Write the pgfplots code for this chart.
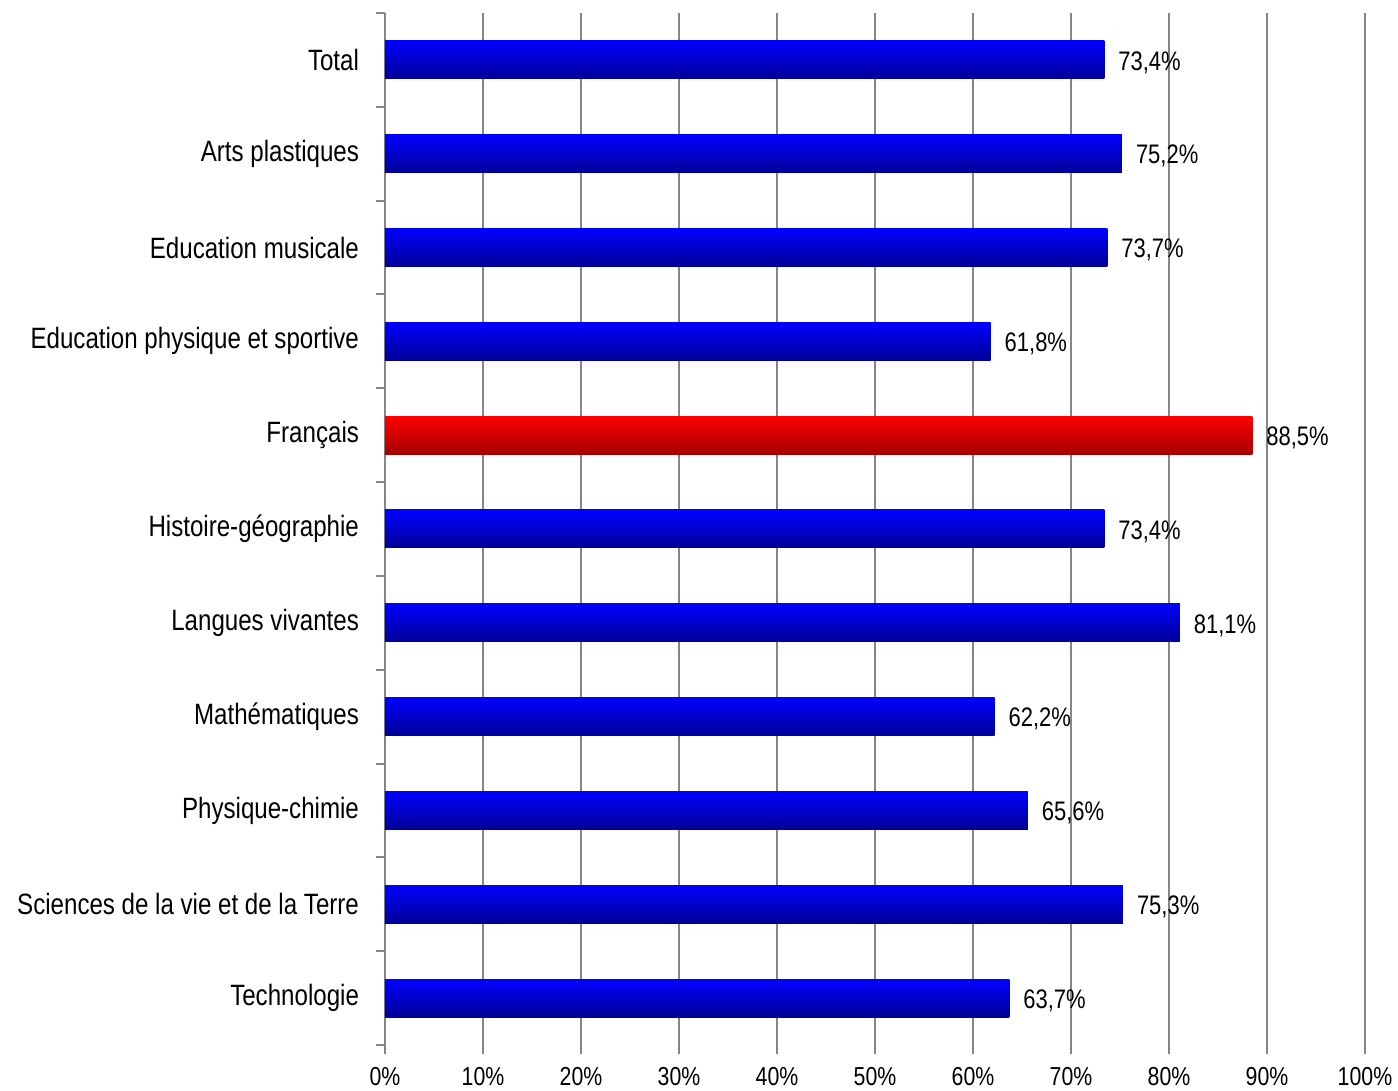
\documentclass[border=0pt]{standalone}
\usepackage{fontspec}
\setmainfont[FakeStretch=0.82]{Liberation Sans}
\usepackage{pgfplots}
\pgfplotsset{compat=1.18}
\definecolor{gridgray}{RGB}{134,134,134}
\definecolor{btop}{RGB}{0,0,255}
\definecolor{bmid}{RGB}{0,0,236}
\definecolor{bbot}{RGB}{0,0,150}
\definecolor{rtop}{RGB}{255,0,0}
\definecolor{rmid}{RGB}{238,0,0}
\definecolor{rbot}{RGB}{165,0,0}
\pgfplotsset{
  barbase/.style={xbar, bar width=19pt, bar shift=0pt, draw=none,
    point meta=x,
    nodes near coords={\pgfmathprintnumber[fixed,fixed zerofill,precision=1,use comma]{\pgfplotspointmeta}\%},
    every node near coord/.append style={font=\fontsize{13.4}{15}\selectfont, black, xshift=3.5pt, yshift=-1.3pt}},
  bluebar/.style={barbase, top color=btop, middle color=bmid, bottom color=bbot},
  redbar/.style={barbase, top color=rtop, middle color=rmid, bottom color=rbot},
}
\begin{document}
\begin{tikzpicture}
\begin{axis}[
  scale only axis, width=490pt, height=516pt,
  xmin=0, xmax=100, ymin=-0.5, ymax=10.5,
  axis lines=left,
  axis line style={-, draw=gridgray, line width=1pt},
  x axis line style={draw=none},
  xtick={0,10,...,100},
  xticklabels={0\%,10\%,20\%,30\%,40\%,50\%,60\%,70\%,80\%,90\%,100\%},
  ytick={0,...,10},
  yticklabels={Technologie,Sciences de la vie et de la Terre,Physique-chimie,Math\'ematiques,Langues vivantes,Histoire-g\'eographie,Fran\c{c}ais,Education physique et sportive,Education musicale,Arts plastiques,Total},
  tick align=outside,
  major tick length=4.5pt,
  xtick style={draw=gridgray, line width=1pt},
  ytick style={draw=none},
  extra y ticks={-0.5,0.5,...,10.5},
  extra y tick labels={},
  extra y tick style={ytick style={draw=gridgray, line width=1pt}},
  xmajorgrids,
  major grid style={draw=gridgray, line width=1pt},
  xticklabel style={font=\fontsize{13}{15}\selectfont, yshift=-3pt},
  yticklabel style={font=\fontsize{14.7}{17}\selectfont, xshift=-5pt},
  /pgf/number format/assume math mode=true,
  clip=false,
]
\addplot[bluebar] coordinates {(73.4,10)};
\addplot[bluebar] coordinates {(75.2,9)};
\addplot[bluebar] coordinates {(73.7,8)};
\addplot[bluebar] coordinates {(61.8,7)};
\addplot[redbar]  coordinates {(88.5,6)};
\addplot[bluebar] coordinates {(73.4,5)};
\addplot[bluebar] coordinates {(81.1,4)};
\addplot[bluebar] coordinates {(62.2,3)};
\addplot[bluebar] coordinates {(65.6,2)};
\addplot[bluebar] coordinates {(75.3,1)};
\addplot[bluebar] coordinates {(63.7,0)};
\coordinate (sw) at (rel axis cs:0,0);
\end{axis}
\pgfresetboundingbox
\path (sw) ++(-192.5pt,-23pt) rectangle ++(699pt,545.5pt);
\end{tikzpicture}
\end{document}
